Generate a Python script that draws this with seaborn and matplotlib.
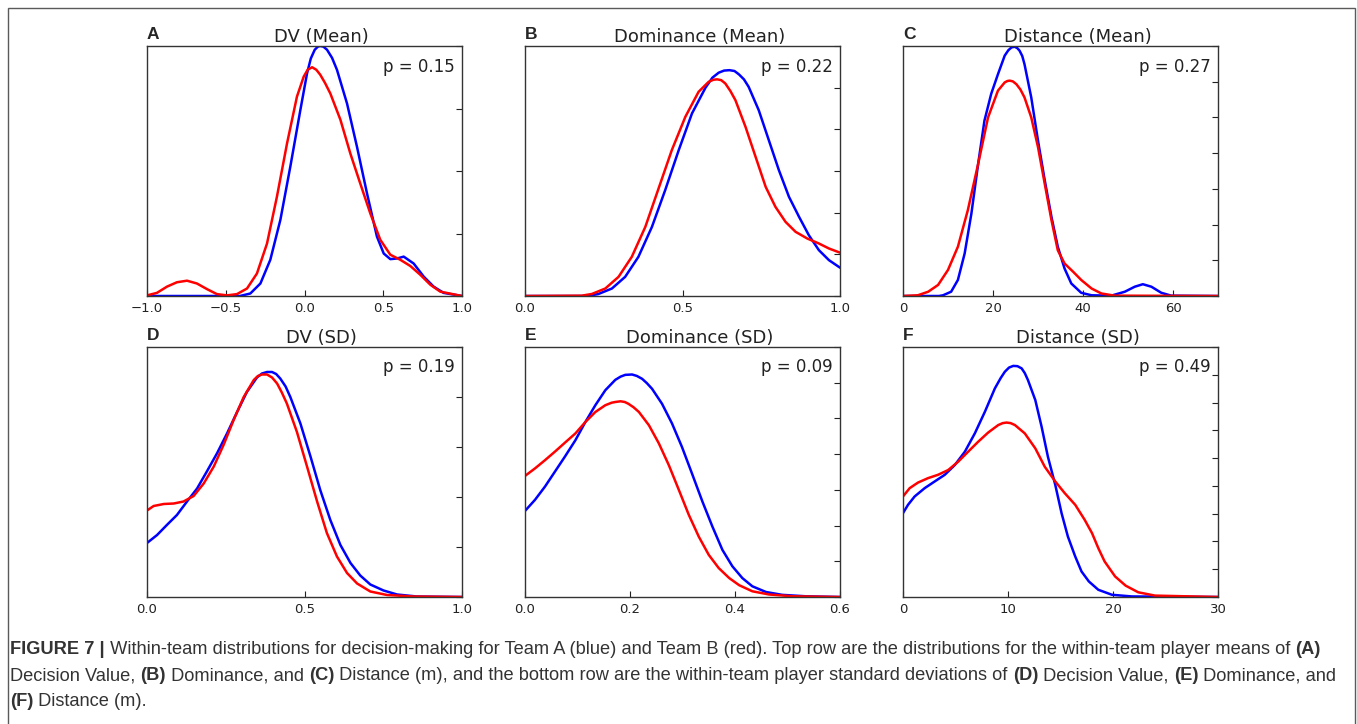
import matplotlib
matplotlib.use("Agg")
import matplotlib.pyplot as plt
import seaborn as sns
import numpy as np
from matplotlib.patches import Rectangle

sns.set_style("white")
plt.rcParams['font.family'] = ['DejaVu Sans']

# ---- curve values (Team A = blue, Team B = red) ----
# A: DV (Mean)
dv_mean_x_a = [-1.0, -0.8, -0.6, -0.41, -0.344, -0.28, -0.217, -0.153, -0.09, -0.026, 0.016, 0.04, 0.065, 0.085,
               0.10, 0.12, 0.143, 0.175, 0.206, 0.27, 0.333, 0.397, 0.46, 0.503, 0.545, 0.587, 0.63, 0.693,
               0.757, 0.82, 0.883, 1.0]
dv_mean_y_a = [0.0, 0.0, 0.0, 0.0, 0.04, 0.2, 0.58, 1.22, 2.07, 2.98, 3.56, 3.80, 3.94, 3.99,
               4.0, 3.99, 3.94, 3.81, 3.62, 3.08, 2.39, 1.64, 0.95, 0.68, 0.59, 0.60, 0.63, 0.52,
               0.31, 0.15, 0.05, 0.0]
dv_mean_x_b = [-1.0, -0.937, -0.873, -0.81, -0.746, -0.683, -0.619, -0.556, -0.492, -0.429, -0.365, -0.302,
               -0.238, -0.175, -0.111, -0.048, -0.005, 0.02, 0.048, 0.075, 0.10, 0.13, 0.164, 0.228, 0.291,
               0.354, 0.418, 0.481, 0.545, 0.608, 0.672, 0.735, 0.799, 0.862, 1.0]
dv_mean_y_b = [0.01, 0.05, 0.15, 0.22, 0.245, 0.2, 0.11, 0.03, 0.01, 0.03, 0.12, 0.36,
               0.84, 1.59, 2.44, 3.19, 3.51, 3.62, 3.66, 3.62, 3.54, 3.41, 3.24, 2.82, 2.28,
               1.80, 1.32, 0.90, 0.66, 0.58, 0.48, 0.34, 0.18, 0.07, 0.0]

# B: Dominance (Mean)
dom_mean_x_a = [0.0, 0.2, 0.233, 0.276, 0.318, 0.36, 0.403, 0.445, 0.488, 0.53, 0.573, 0.595, 0.615, 0.632,
                0.649, 0.665, 0.679, 0.695, 0.71, 0.742, 0.774, 0.806, 0.838, 0.87, 0.901, 0.933, 0.965, 1.0]
dom_mean_y_a = [0.0, 0.0, 0.024, 0.09, 0.23, 0.47, 0.83, 1.27, 1.75, 2.19, 2.50, 2.62, 2.68, 2.705,
                2.71, 2.70, 2.66, 2.60, 2.51, 2.23, 1.87, 1.51, 1.19, 0.95, 0.73, 0.55, 0.43, 0.34]
dom_mean_x_b = [0.0, 0.18, 0.212, 0.255, 0.297, 0.339, 0.382, 0.424, 0.466, 0.509, 0.551, 0.583, 0.598, 0.61,
                0.623, 0.636, 0.652, 0.668, 0.70, 0.732, 0.764, 0.795, 0.827, 0.859, 0.896, 0.933, 0.965, 1.0]
dom_mean_y_b = [0.0, 0.004, 0.024, 0.09, 0.23, 0.47, 0.83, 1.29, 1.75, 2.15, 2.45, 2.57, 2.595, 2.60,
                2.59, 2.55, 2.46, 2.35, 2.03, 1.67, 1.31, 1.07, 0.89, 0.77, 0.69, 0.63, 0.57, 0.52]

# C: Distance (Mean)
dist_mean_x_a = [0, 8.0, 8.9, 10.7, 12.2, 13.7, 15.2, 16.7, 18.1, 19.6, 21.1, 22.6, 23.4, 24.1, 24.8, 25.4,
                 25.9, 26.5, 27.0, 28.5, 30.0, 31.5, 33.0, 34.4, 35.9, 37.4, 39.6, 41.9, 46.3, 49.3, 51.5,
                 53.3, 55.2, 57.4, 59.6, 70]
dist_mean_y_a = [0.0, 0.0, 0.0002, 0.0012, 0.0045, 0.0119, 0.0231, 0.037, 0.0491, 0.0566, 0.0621, 0.0673,
                 0.0688, 0.0696, 0.0698, 0.0694, 0.0687, 0.0672, 0.0649, 0.0556, 0.0435, 0.0324, 0.0221,
                 0.0138, 0.0077, 0.0035, 0.0009, 0.0002, 0.0001, 0.0012, 0.0026, 0.0033, 0.0026, 0.0009,
                 0.0001, 0.0]
dist_mean_x_b = [0, 3.3, 5.6, 7.8, 10.0, 12.2, 14.4, 16.7, 18.9, 21.1, 22.6, 23.2, 23.7, 24.4, 25.2, 26.1,
                 27.0, 28.5, 30.0, 31.5, 33.0, 34.4, 35.9, 37.8, 39.6, 41.9, 44.1, 47.0, 70]
dist_mean_y_b = [0.0, 0.0002, 0.0012, 0.0031, 0.0073, 0.0138, 0.024, 0.037, 0.05, 0.0575, 0.0598, 0.0602,
                 0.0603, 0.0601, 0.0593, 0.0578, 0.0556, 0.05, 0.0417, 0.0314, 0.0212, 0.0128, 0.0091,
                 0.0068, 0.0045, 0.0021, 0.0007, 0.0001, 0.0]

# D: DV (SD)
dv_sd_x_a = [0.0, 0.032, 0.063, 0.095, 0.127, 0.159, 0.19, 0.222, 0.254, 0.286, 0.317, 0.349, 0.365, 0.381,
             0.397, 0.41, 0.423, 0.44, 0.455, 0.487, 0.519, 0.55, 0.582, 0.614, 0.646, 0.677, 0.709, 0.751,
             0.794, 0.857, 1.0]
dv_sd_y_a = [1.08, 1.24, 1.44, 1.64, 1.91, 2.17, 2.51, 2.87, 3.27, 3.70, 4.10, 4.39, 4.47, 4.50,
             4.50, 4.46, 4.37, 4.21, 4.0, 3.47, 2.81, 2.14, 1.54, 1.04, 0.68, 0.43, 0.25, 0.13,
             0.05, 0.01, 0.0]
dv_sd_x_b = [0.0, 0.021, 0.053, 0.085, 0.116, 0.148, 0.18, 0.212, 0.243, 0.275, 0.307, 0.339, 0.352, 0.365,
             0.381, 0.397, 0.413, 0.428, 0.444, 0.476, 0.508, 0.54, 0.571, 0.603, 0.635, 0.667, 0.709,
             0.762, 0.847, 1.0]
dv_sd_y_b = [1.73, 1.82, 1.86, 1.87, 1.91, 2.02, 2.27, 2.61, 3.04, 3.54, 4.0, 4.34, 4.42, 4.45,
             4.45, 4.39, 4.27, 4.09, 3.87, 3.30, 2.61, 1.91, 1.28, 0.81, 0.48, 0.27, 0.11,
             0.04, 0.01, 0.0]

# E: Dominance (SD)
dom_sd_x_a = [0.0, 0.019, 0.038, 0.057, 0.076, 0.096, 0.115, 0.134, 0.153, 0.172, 0.182, 0.191, 0.204, 0.213,
              0.223, 0.232, 0.242, 0.261, 0.28, 0.299, 0.318, 0.338, 0.357, 0.376, 0.395, 0.414, 0.433,
              0.459, 0.49, 0.535, 0.6]
dom_sd_y_a = [2.41, 2.72, 3.09, 3.51, 3.93, 4.39, 4.90, 5.37, 5.79, 6.08, 6.17, 6.22, 6.23, 6.19,
              6.11, 5.99, 5.83, 5.41, 4.86, 4.20, 3.46, 2.67, 1.97, 1.32, 0.86, 0.53, 0.30,
              0.14, 0.06, 0.02, 0.0]
dom_sd_x_b = [0.0, 0.019, 0.038, 0.057, 0.076, 0.096, 0.115, 0.134, 0.153, 0.165, 0.172, 0.182, 0.19, 0.197,
              0.207, 0.217, 0.236, 0.255, 0.274, 0.293, 0.312, 0.331, 0.35, 0.369, 0.389, 0.408, 0.433,
              0.465, 0.51, 0.6]
dom_sd_y_b = [3.39, 3.60, 3.83, 4.07, 4.32, 4.58, 4.90, 5.18, 5.37, 5.44, 5.46, 5.48, 5.46, 5.41,
              5.31, 5.18, 4.81, 4.30, 3.69, 3.0, 2.30, 1.69, 1.18, 0.81, 0.53, 0.33, 0.16,
              0.07, 0.02, 0.0]

# F: Distance (SD)
dist_sd_x_a = [0.0, 0.48, 1.11, 2.07, 3.02, 3.98, 4.93, 5.89, 6.84, 7.8, 8.75, 9.3, 9.7, 10.1, 10.5, 10.9,
               11.3, 11.6, 11.9, 12.6, 13.2, 13.8, 14.5, 15.1, 15.7, 16.4, 17.0, 17.7, 18.6, 19.9, 21.8, 30.0]
dist_sd_y_a = [0.0302, 0.0332, 0.0362, 0.0392, 0.0416, 0.044, 0.0475, 0.0523, 0.0589, 0.0667, 0.0751, 0.0788,
               0.0811, 0.0826, 0.0832, 0.0831, 0.0823, 0.0806, 0.0781, 0.0709, 0.0613, 0.0505, 0.0404,
               0.0302, 0.0218, 0.0146, 0.0092, 0.0056, 0.0026, 0.0008, 0.0002, 0.0]
dist_sd_x_b = [0.0, 0.64, 1.43, 2.39, 3.34, 4.3, 5.25, 6.2, 7.16, 8.11, 9.07, 9.5, 9.86, 10.25, 10.66, 11.6,
               12.6, 13.5, 14.5, 15.4, 16.4, 17.3, 18.0, 18.6, 19.2, 20.2, 21.2, 22.4, 24.0, 30.0]
dist_sd_y_b = [0.0362, 0.0392, 0.0412, 0.0428, 0.044, 0.0457, 0.0487, 0.0523, 0.0559, 0.0592, 0.0619, 0.0626,
               0.0628, 0.0626, 0.0619, 0.0589, 0.0535, 0.0469, 0.0416, 0.0374, 0.0332, 0.0278, 0.023,
               0.0176, 0.0128, 0.0074, 0.0041, 0.0017, 0.0005, 0.0]

letters = ['A', 'B', 'C', 'D', 'E', 'F']
titles = ['DV (Mean)', 'Dominance (Mean)', 'Distance (Mean)', 'DV (SD)', 'Dominance (SD)', 'Distance (SD)']
p_values = ['p = 0.15', 'p = 0.22', 'p = 0.27', 'p = 0.19', 'p = 0.09', 'p = 0.49']
x_limits = [(-1, 1), (0, 1), (0, 70), (0, 1), (0, 0.6), (0, 30)]
x_ticks = [[-1, -0.5, 0, 0.5, 1], [0, 0.5, 1], [0, 20, 40, 60], [0, 0.5, 1], [0, 0.2, 0.4, 0.6], [0, 10, 20, 30]]
y_tops = [4, 3, 0.07, 5, 7, 0.09]
y_steps = [1, 0.5, 0.01, 1, 1, 0.01]

curves = [
    (dv_mean_x_a, dv_mean_y_a, dv_mean_x_b, dv_mean_y_b),
    (dom_mean_x_a, dom_mean_y_a, dom_mean_x_b, dom_mean_y_b),
    (dist_mean_x_a, dist_mean_y_a, dist_mean_x_b, dist_mean_y_b),
    (dv_sd_x_a, dv_sd_y_a, dv_sd_x_b, dv_sd_y_b),
    (dom_sd_x_a, dom_sd_y_a, dom_sd_x_b, dom_sd_y_b),
    (dist_sd_x_a, dist_sd_y_a, dist_sd_x_b, dist_sd_y_b),
]

W, H = 1357, 724
fig = plt.figure(figsize=(W / 100, H / 100), dpi=100)

# outer frame
fig.patches.append(Rectangle((8 / W, -0.01), (1355 - 8) / W, 1.01 - 8 / H, transform=fig.transFigure,
                             fill=False, edgecolor='#5a5a5a', linewidth=1.0))

col_left = [147, 525, 903]
row_top = [46, 347]
ax_w, ax_h = 315, 250

for i in range(6):
    r, c = divmod(i, 3)
    left = col_left[c] / W
    bottom = 1 - (row_top[r] + ax_h) / H
    ax = fig.add_axes([left, bottom, ax_w / W, ax_h / H])
    xa, ya, xb, yb = curves[i]
    sns.lineplot(x=xa, y=ya, ax=ax, color='#0000ff', linewidth=1.8, estimator=None)
    sns.lineplot(x=xb, y=yb, ax=ax, color='#ff0000', linewidth=1.8, estimator=None)
    ax.set_xlim(*x_limits[i])
    ax.set_ylim(0, y_tops[i])
    ax.set_xticks(x_ticks[i])
    ax.set_yticks(np.arange(0, y_tops[i] + y_steps[i] / 2, y_steps[i]))
    ax.tick_params(axis='x', direction='in', bottom=True, top=False, length=4, width=0.8,
                   labelsize=9.5, colors='#222222', pad=4)
    ax.tick_params(axis='y', direction='in', left=False, right=True, labelleft=False, length=4,
                   width=0.8, colors='#222222')
    for s in ax.spines.values():
        s.set_color('#333333')
        s.set_linewidth(1.0)
    ax.set_title(titles[i], fontsize=13, x=0.555, pad=3, color='#222222')
    ax.text(0.0, 1.015, letters[i], transform=ax.transAxes, ha='left', va='bottom',
            fontsize=12.5, fontweight='bold', family=['Liberation Sans', 'DejaVu Sans'])
    ax.text(0.978, 0.918, p_values[i], transform=ax.transAxes, ha='right', va='center',
            fontsize=12, color='#222222')

# caption with mixed bold / regular runs
cap_lines = [
    [("FIGURE 7 |", 'bold'),
     (" Within-team distributions for decision-making for Team A (blue) and Team B (red). Top row are the "
      "distributions for the within-team player means of ", 'normal'),
     ("(A)", 'bold')],
    [("Decision Value, ", 'normal'), ("(B)", 'bold'), (" Dominance, and ", 'normal'), ("(C)", 'bold'),
     (" Distance (m), and the bottom row are the within-team player standard deviations of ", 'normal'),
     ("(D)", 'bold'), (" Decision Value, ", 'normal'), ("(E)", 'bold'), (" Dominance, and", 'normal')],
    [("(F)", 'bold'), (" Distance (m).", 'normal')],
]
cap_y = [650, 676, 701]
cap_family = ['Liberation Sans', 'DejaVu Sans']
cap_color = '#333333'
renderer = fig.canvas.get_renderer()


def draw_runs(runs, y_px, size):
    x_px = 10
    for txt, weight in runs:
        t = fig.text(x_px / W, 1 - y_px / H, txt, fontsize=size, fontweight=weight,
                     family=cap_family, color=cap_color, va='center', ha='left')
        x_px += t.get_window_extent(renderer).width
    return x_px


# size the caption so that the first line spans the frame as in the figure
probe = fig.text(0, 0, "".join(t for t, _ in cap_lines[0]), fontsize=10, family=cap_family)
probe_w = probe.get_window_extent(renderer).width
probe.remove()
cap_size = 10 * (1326 - 10) / probe_w

for runs, y in zip(cap_lines, cap_y):
    draw_runs(runs, y, cap_size)

fig.savefig('out.png', dpi=100)
